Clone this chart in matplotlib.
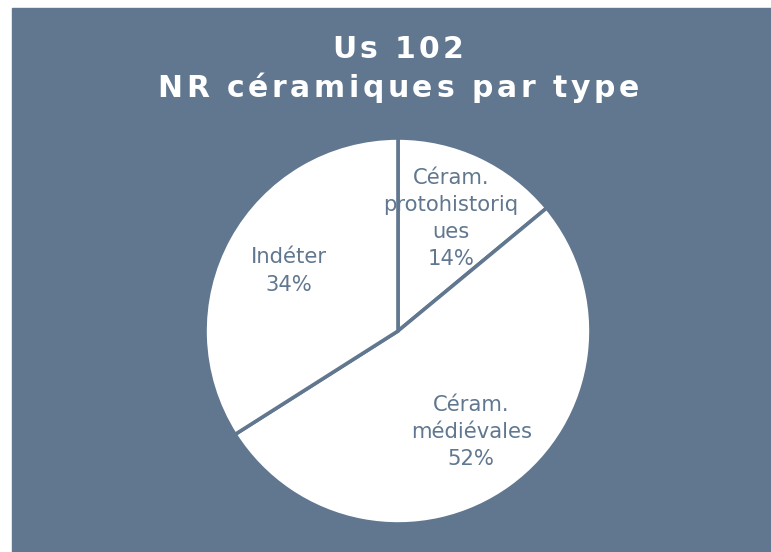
import matplotlib.pyplot as plt

# data
categories = ["Céram.\nprotohistoriq\nues", "Céram.\nmédiévales", "Indéter"]
shares = [14, 52, 34]
title_lines = ["Us 102", "NR céramiques par type"]

BG = "#60778f"
W, H = 771, 552

fig = plt.figure(figsize=(W / 100, H / 100), dpi=100)
fig.patch.set_facecolor("white")
# slate panel behind everything
fig.patches.append(plt.Rectangle((12 / W, 0), 1 - 12 / W, 1 - 8 / H,
                                 transform=fig.transFigure, color=BG, zorder=-5))

# pie axes: square in pixels, centred on the pie
cx, cy, r = 398, 552 - 331, 193
ax = fig.add_axes([(cx - r) / W, (cy - r) / H, 2 * r / W, 2 * r / H])
ax.set_facecolor("none")
ax.set_zorder(2)

labels = [f"{c}\n{v}%" for c, v in zip(categories, shares)]
wedges, texts = ax.pie(shares, startangle=90, counterclock=False, radius=1,
                       colors=["white"] * len(shares),
                       wedgeprops=dict(edgecolor=BG, linewidth=2.6),
                       labels=labels, labeldistance=0.645,
                       textprops=dict(color=BG, fontsize=15.2, linespacing=1.45))
for t in texts:
    t.set_ha("center")
    t.set_va("center")
ax.set_xlim(-1, 1)
ax.set_ylim(-1, 1)


def spaced_title(s, y_px, size, spacing_px):
    fig.canvas.draw()
    rend = fig.canvas.get_renderer()
    widths = []
    for ch in s:
        if ch == " ":
            t = fig.text(0, 0, "a a", fontsize=size, fontweight="bold")
            t2 = fig.text(0, 0, "aa", fontsize=size, fontweight="bold")
            w = t.get_window_extent(rend).width - t2.get_window_extent(rend).width
            t.remove(); t2.remove()
        else:
            t = fig.text(0, 0, ch, fontsize=size, fontweight="bold")
            w = t.get_window_extent(rend).width
            t.remove()
        widths.append(w)
    total = sum(widths) + spacing_px * (len(s) - 1)
    x = cx - total / 2
    for ch, w in zip(s, widths):
        if ch != " ":
            fig.text(x / W, 1 - y_px / H, ch, fontsize=size, fontweight="bold",
                     color="white", ha="left", va="baseline")
        x += w + spacing_px


spaced_title(title_lines[0], 58, 21.5, 3.3)
spaced_title(title_lines[1], 97, 21.5, 3.6)

fig.savefig("out.png", dpi=100)
